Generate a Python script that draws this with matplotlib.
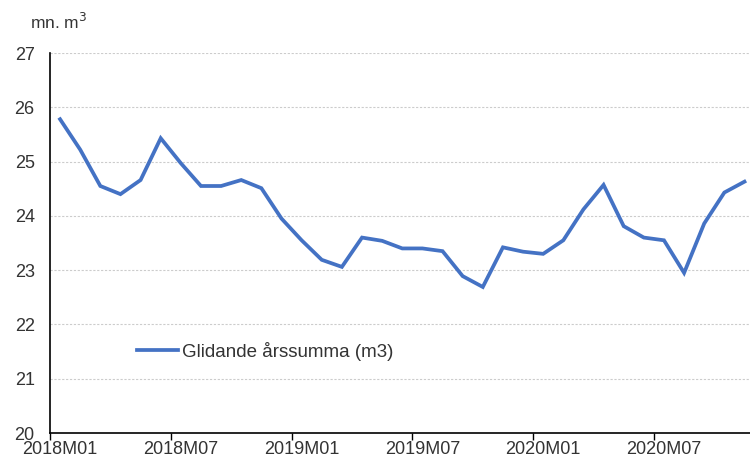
import matplotlib
matplotlib.use("Agg")
import matplotlib.pyplot as plt
import numpy as np

# monthly rolling annual sum, 2018M01 .. 2020M11
months = [f"{y}M{m:02d}" for y in (2018, 2019, 2020) for m in range(1, 13)][:35]
values = [25.78, 25.22, 24.55, 24.40, 24.66, 25.43, 24.97, 24.55, 24.55, 24.66,
          24.51, 23.95, 23.55, 23.19, 23.06, 23.60, 23.54, 23.40, 23.40, 23.35,
          22.89, 22.69, 23.42, 23.34, 23.30, 23.55, 24.12, 24.57, 23.81, 23.60,
          23.55, 22.95, 23.86, 24.43, 24.63]
series_name = "Glidande årssumma (m3)"
unit_label = "mn. m$^3$"

plt.rcParams['font.family'] = ['Liberation Sans', 'DejaVu Sans']
txt = '#333333'

fig = plt.figure(figsize=(7.5, 4.63), dpi=100)
ax = fig.add_axes([50 / 750, 1 - 433 / 463, 1 - 50 / 750, 380 / 463])

x = np.arange(len(values))
ax.plot(x, values, color='#4472C4', lw=2.7, solid_joinstyle='miter', label=series_name)

ax.set_ylim(20, 27)
ax.set_yticks(range(20, 28))
ax.set_xlim(-0.5, -0.5 + 700 / 20.13)

# ticks at category boundaries, labels at category centres
ax.set_xticks(np.arange(-0.5, len(months), 6))
ax.set_xticklabels([])
ax.set_xticks(np.arange(0, len(months), 6), minor=True)
ax.set_xticklabels(months[::6], minor=True)
ax.tick_params(axis='x', which='major', length=5, width=1, color='black', direction='out')
ax.tick_params(axis='x', which='minor', length=0, pad=6, labelsize=13, labelcolor=txt)
ax.tick_params(axis='y', length=0, pad=11, labelsize=13, labelcolor=txt)

ax.grid(axis='y', color='#cccccc', lw=0.8, ls=(0, (2, 1.5)))
ax.set_axisbelow(True)
for s in ('top', 'right'):
    ax.spines[s].set_visible(False)
ax.spines['left'].set_color('black')
ax.spines['bottom'].set_color('black')
ax.spines['left'].set_linewidth(1.2)
ax.spines['bottom'].set_linewidth(1.2)

fig.text(30 / 750, 1 - 22 / 463, unit_label, fontsize=12.5, color=txt, va='center')

ax.legend(loc='upper left', bbox_to_anchor=(0.1, 0.285), frameon=False,
          fontsize=13.5, handlelength=2.2, handletextpad=0.2, labelcolor=txt)

fig.savefig("out.png", dpi=100)
